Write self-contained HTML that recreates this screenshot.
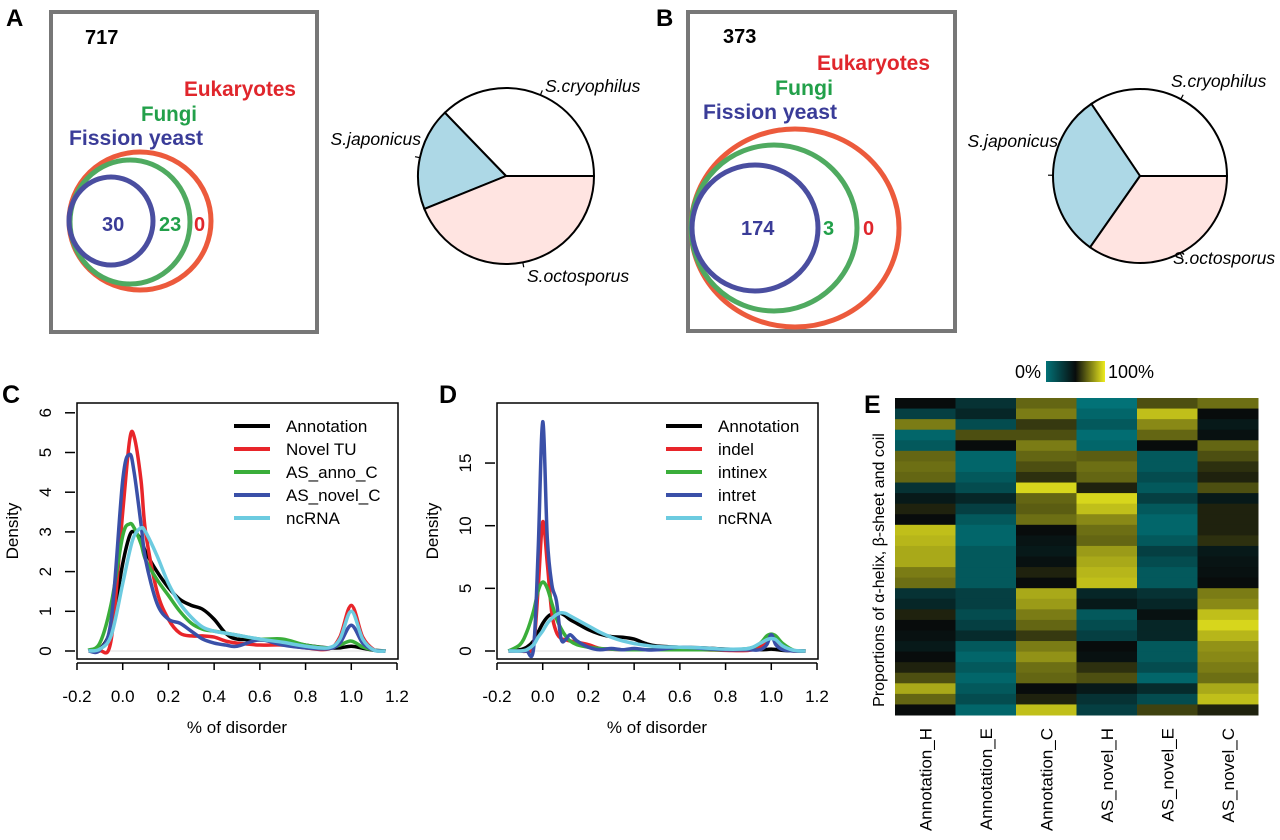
<!DOCTYPE html>
<html><head><meta charset="utf-8"><style>
html,body{margin:0;padding:0;background:#fff;}
svg{display:block;font-family:"Liberation Sans",sans-serif;}
</style></head><body>
<svg id="fig" width="1280" height="840" viewBox="0 0 1280 840" xmlns="http://www.w3.org/2000/svg">
<!-- Panel A -->
<g>
<text x="6" y="26" font-size="24" font-weight="bold">A</text>
<rect x="51" y="12" width="266" height="320" fill="none" stroke="#777" stroke-width="4"/>
<text x="85" y="44" font-size="20" font-weight="bold">717</text>
<text x="184" y="96" font-size="21" font-weight="bold" fill="#e0262c" textLength="112" lengthAdjust="spacingAndGlyphs">Eukaryotes</text>
<text x="141" y="121" font-size="21" font-weight="bold" fill="#22a04a" textLength="56" lengthAdjust="spacingAndGlyphs">Fungi</text>
<text x="69" y="145" font-size="21" font-weight="bold" fill="#3a3c98" textLength="134" lengthAdjust="spacingAndGlyphs">Fission yeast</text>
<ellipse cx="140" cy="221" rx="71" ry="69" fill="none" stroke="#ec5a3c" stroke-width="5"/>
<ellipse cx="130" cy="222" rx="60" ry="62" fill="none" stroke="#4faa60" stroke-width="5"/>
<ellipse cx="111" cy="221" rx="42" ry="44" fill="none" stroke="#4a4ea0" stroke-width="5"/>
<text x="102" y="231" font-size="20" font-weight="bold" fill="#3a3c98">30</text>
<text x="159" y="231" font-size="20" font-weight="bold" fill="#22a04a">23</text>
<text x="194" y="231" font-size="20" font-weight="bold" fill="#e0262c">0</text>
<g id="pieA"></g>
</g>
<!-- Panel B -->
<g>
<text x="656" y="26" font-size="24" font-weight="bold">B</text>
<rect x="688" y="12" width="267" height="319" fill="none" stroke="#777" stroke-width="4"/>
<text x="723" y="43" font-size="20" font-weight="bold">373</text>
<text x="817" y="70" font-size="21" font-weight="bold" fill="#e0262c" textLength="113" lengthAdjust="spacingAndGlyphs">Eukaryotes</text>
<text x="775" y="95" font-size="21" font-weight="bold" fill="#22a04a" textLength="58" lengthAdjust="spacingAndGlyphs">Fungi</text>
<text x="703" y="119" font-size="21" font-weight="bold" fill="#3a3c98" textLength="134" lengthAdjust="spacingAndGlyphs">Fission yeast</text>
<ellipse cx="795" cy="228" rx="104" ry="99" fill="none" stroke="#ec5a3c" stroke-width="5"/>
<ellipse cx="774" cy="228" rx="83" ry="83" fill="none" stroke="#4faa60" stroke-width="5"/>
<ellipse cx="755" cy="228" rx="63" ry="63" fill="none" stroke="#4a4ea0" stroke-width="5"/>
<text x="741" y="235" font-size="20" font-weight="bold" fill="#3a3c98">174</text>
<text x="823" y="235" font-size="20" font-weight="bold" fill="#22a04a">3</text>
<text x="863" y="235" font-size="20" font-weight="bold" fill="#e0262c">0</text>
<g id="pieB"></g>
</g>
<!-- Panel C -->
<g id="panelC">
<text x="2" y="403" font-size="25" font-weight="bold">C</text>
</g>
<g id="panelD">
<text x="439" y="403" font-size="25" font-weight="bold">D</text>
</g>
<g id="panelE">
<text x="864" y="413" font-size="25" font-weight="bold">E</text>
</g>
</svg>
<script>
const NS='http://www.w3.org/2000/svg';
// ---------- pie data ----------
const pieLabels=['S.cryophilus','S.japonicus','S.octosporus'];
const pieAValues=[134,68,158];
const pieBValues=[124,111,125];
// ---------- density C data ----------
const cX=[-0.15,-0.1,-0.05,0,0.03,0.05,0.08,0.1,0.15,0.2,0.25,0.3,0.35,0.4,0.45,0.5,0.6,0.7,0.8,0.9,0.95,1.0,1.05,1.1,1.15];
const cNames=['Annotation','Novel TU','AS_anno_C','AS_novel_C','ncRNA'];
const cAnnotation=[0,0.05,0.6,2.2,2.9,3.0,2.8,2.5,2.0,1.6,1.3,1.15,1.05,0.8,0.45,0.3,0.28,0.25,0.15,0.08,0.08,0.12,0.07,0.02,0];
const cNovelTU=[0,0,0.3,3.5,5.3,5.4,4.3,3.0,1.5,0.8,0.45,0.38,0.38,0.35,0.25,0.2,0.15,0.15,0.08,0.05,0.35,1.15,0.35,0.03,0];
const cASanno=[0.02,0.2,1.2,2.9,3.2,3.1,2.7,2.3,1.8,1.4,1.0,0.7,0.55,0.5,0.45,0.4,0.3,0.3,0.15,0.08,0.15,0.25,0.1,0.02,0];
const cASnovel=[0,0.03,0.8,4.3,4.95,4.5,3.2,2.3,1.2,0.8,0.7,0.5,0.3,0.2,0.15,0.12,0.28,0.15,0.08,0.06,0.2,0.65,0.2,0.02,0];
const cNcRNA=[0,0.05,0.4,1.7,2.5,2.9,3.1,3.0,2.4,1.7,1.2,0.85,0.6,0.5,0.45,0.4,0.3,0.22,0.12,0.08,0.3,1.0,0.3,0.02,0];
const cYTicks=[0,1,2,3,4,5,6];
// ---------- density D data ----------
const dX=[-0.15,-0.1,-0.07,-0.04,-0.02,0,0.02,0.04,0.06,0.08,0.1,0.12,0.15,0.2,0.25,0.3,0.35,0.4,0.45,0.5,0.6,0.7,0.8,0.9,0.95,0.98,1.0,1.02,1.05,1.1,1.15];
const dNames=['Annotation','indel','intinex','intret','ncRNA'];
const dAnnotation=[0,0.1,0.3,0.8,1.5,2.2,2.7,2.95,3.0,3.0,2.8,2.5,2.2,1.7,1.35,1.15,1.1,0.95,0.6,0.4,0.3,0.25,0.15,0.1,0.1,0.12,0.15,0.12,0.05,0.01,0];
const dIndel=[0,0,0,0.5,5,10.3,7,3,1.5,1.0,0.9,0.8,0.7,0.5,0.2,0.15,0.1,0.1,0.1,0.1,0.1,0.1,0.05,0.05,0.3,0.9,1.1,0.8,0.2,0,0];
const dIntinex=[0,0.5,1.5,3.2,4.8,5.5,5.0,3.8,2.6,1.8,1.2,0.8,0.5,0.3,0.2,0.15,0.1,0.1,0.1,0.1,0.1,0.1,0.1,0.2,0.6,1.2,1.35,1.2,0.6,0.05,0];
const dIntret=[0,0,0,0.2,8,18.3,9,5.3,4,1.0,0.9,1.3,0.8,0.3,0.1,0.2,0.1,0.2,0.1,0.1,0.3,0.2,0.1,0.1,0.1,0.5,1.3,0.5,0.1,0,0];
const dNcRNA=[0,0,0.1,0.5,1.1,1.6,2.2,2.6,2.9,3.05,3.0,2.8,2.5,2.0,1.5,1.1,0.8,0.6,0.45,0.35,0.3,0.25,0.15,0.2,0.6,0.9,1.0,0.9,0.4,0.05,0];
const dYTicks=[0,5,10,15];
const xTicks=[-0.2,0,0.2,0.4,0.6,0.8,1.0,1.2];
const xTickLabels=['-0.2','0.0','0.2','0.4','0.6','0.8','1.0','1.2'];
// ---------- heatmap data ----------
const hmColumns=['Annotation_H','Annotation_E','Annotation_C','AS_novel_H','AS_novel_E','AS_novel_C'];
const hmAnnotationH=[0.5,0.3,0.75,0.15,0.2,0.7,0.72,0.7,0.35,0.45,0.55,0.5,0.9,0.88,0.85,0.85,0.75,0.72,0.35,0.4,0.55,0.5,0.48,0.45,0.5,0.55,0.65,0.85,0.7,0.5];
const hmAnnotationE=[0.35,0.4,0.25,0.65,0.5,0.15,0.15,0.2,0.25,0.4,0.3,0.2,0.15,0.15,0.2,0.2,0.2,0.2,0.3,0.3,0.25,0.3,0.38,0.2,0.15,0.2,0.15,0.2,0.25,0.15];
const hmAnnotationC=[0.7,0.75,0.6,0.65,0.75,0.7,0.65,0.58,0.95,0.7,0.68,0.72,0.5,0.47,0.45,0.48,0.55,0.5,0.85,0.82,0.75,0.7,0.6,0.75,0.8,0.72,0.7,0.5,0.55,0.9];
const hmASnovelH=[0.1,0.15,0.2,0.12,0.15,0.68,0.72,0.7,0.55,0.95,0.9,0.78,0.72,0.7,0.82,0.85,0.88,0.9,0.4,0.45,0.2,0.25,0.3,0.5,0.48,0.58,0.65,0.45,0.35,0.3];
const hmASnovelE=[0.65,0.9,0.78,0.7,0.5,0.2,0.2,0.25,0.2,0.3,0.2,0.15,0.15,0.2,0.3,0.25,0.2,0.2,0.35,0.4,0.48,0.4,0.4,0.2,0.2,0.25,0.15,0.38,0.25,0.62];
const hmASnovelC=[0.72,0.5,0.45,0.48,0.7,0.65,0.58,0.55,0.65,0.45,0.55,0.55,0.55,0.58,0.45,0.47,0.48,0.5,0.75,0.78,0.9,0.95,0.88,0.8,0.78,0.75,0.72,0.85,0.9,0.55];

function mk(tag,attrs,parent,txt){const e=document.createElementNS(NS,tag);for(const k in attrs)e.setAttribute(k,attrs[k]);if(txt!==undefined)e.textContent=txt;parent.appendChild(e);return e;}

// ---------- pies ----------
function drawPie(g,vals,cx,cy,r,labelPos){
  const fills=['#ffffff','#add8e6','#ffe4e1'];
  const tot=vals.reduce((a,b)=>a+b,0);
  let a0=0;
  vals.forEach((v,i)=>{
    const a1=a0+v/tot*2*Math.PI;
    const x0=cx+r*Math.cos(a0),y0=cy-r*Math.sin(a0),x1=cx+r*Math.cos(a1),y1=cy-r*Math.sin(a1);
    const large=(a1-a0)>Math.PI?1:0;
    const p=mk('path',{d:`M${cx},${cy} L${x0},${y0} A${r},${r} 0 ${large} 0 ${x1},${y1} Z`,fill:fills[i],stroke:'#000','stroke-width':2},g);
    
    
    const am=(a0+a1)/2;
    const tx1=cx+r*Math.cos(am),ty1=cy-r*Math.sin(am),tx2=cx+(r+5)*Math.cos(am),ty2=cy-(r+5)*Math.sin(am);
    const t=mk('line',{x1:tx1,y1:ty1,x2:tx2,y2:ty2,stroke:'#000','stroke-width':1.2},g);
    
    
    const lp=labelPos[i];
    const lt=mk('text',{x:lp[0],y:lp[1],'font-size':17.5,'font-style':'italic','text-anchor':lp[2]},g,pieLabels[i]);
    
    
    a0=a1;
  });
}
drawPie(document.getElementById('pieA'),pieAValues,506,176,88,[[545,92,'start'],[421,145,'end'],[527,282,'start']]);
drawPie(document.getElementById('pieB'),pieBValues,1140,176,87,[[1171,87,'start'],[1058,147,'end'],[1173,264,'start']]);

// ---------- density ----------
function smooth(pts){
  let d=`M${pts[0][0]},${pts[0][1]}`;
  for(let i=0;i<pts.length-1;i++){
    const p0=pts[Math.max(0,i-1)],p1=pts[i],p2=pts[i+1],p3=pts[Math.min(pts.length-1,i+2)];
    const c1x=p1[0]+(p2[0]-p0[0])/6,c1y=p1[1]+(p2[1]-p0[1])/6,c2x=p2[0]-(p3[0]-p1[0])/6,c2y=p2[1]-(p3[1]-p1[1])/6;
    d+=` C${c1x},${c1y} ${c2x},${c2y} ${p2[0]},${p2[1]}`;
  }
  return d;
}
const colors=['#000000','#e8252a','#3aae3a','#3a50a8','#6ccbe0'];
function drawDensity(g,x0,yScale,xs,series,names,yTicks,legendX,pfx){
  const X=v=>x0+(v+0.2)/1.4*320;
  const Y=v=>651-v*yScale;
  const box=mk('rect',{x:x0,y:403,width:321,height:256,fill:'none',stroke:'#000','stroke-width':1.5},g);
  
  
  const base=mk('line',{x1:X(-0.15),x2:X(1.15),y1:Y(0),y2:Y(0),stroke:'#ddd','stroke-width':1},g);
  
  
  const xa=mk('line',{x1:X(-0.2),x2:X(1.2),y1:663,y2:663,stroke:'#000','stroke-width':1.5},g);
  
  
  xTicks.forEach((t,i)=>{
    const l=mk('line',{x1:X(t),x2:X(t),y1:663,y2:670,stroke:'#000','stroke-width':1.5},g);
    
    
    const tx=mk('text',{x:X(t),y:702,'font-size':17,'text-anchor':'middle'},g,xTickLabels[i]);
    
    
  });
  yTicks.forEach(t=>{
    const l=mk('line',{x1:x0-12,x2:x0-2,y1:Y(t),y2:Y(t),stroke:'#000','stroke-width':1.5},g);
    
    
    const tx=mk('text',{x:0,y:0,'font-size':17,'text-anchor':'middle',transform:`translate(${x0-26},${Y(t)}) rotate(-90)`},g,String(t));
    
    
  });
  const xt=mk('text',{x:x0+160,y:733,'font-size':17,'text-anchor':'middle'},g,'% of disorder');
  
  
  const yt=mk('text',{x:0,y:0,'font-size':17,'text-anchor':'middle',transform:`translate(${x0-59},531) rotate(-90)`},g,'Density');
  
  
  series.forEach((s,si)=>{
    const pts=xs.map((v,i)=>[X(v),Y(s[i])]);
    const p=mk('path',{d:smooth(pts),fill:'none',stroke:colors[si],'stroke-width':3.5,'stroke-linejoin':'round'},g);
    
    
  });
  names.forEach((n,i)=>{
    const y=426+i*23;
    const l=mk('line',{x1:legendX,x2:legendX+36,y1:y,y2:y,stroke:colors[i],'stroke-width':4},g);
    
    
    const t=mk('text',{x:legendX+52,y:y+6,'font-size':17},g,n);
    
    
  });
}
drawDensity(document.getElementById('panelC'),77,39.7,cX,[cAnnotation,cNovelTU,cASanno,cASnovel,cNcRNA],cNames,cYTicks,234,'c');
drawDensity(document.getElementById('panelD'),497,12.53,dX,[dAnnotation,dIndel,dIntinex,dIntret,dNcRNA],dNames,dYTicks,666,'d');

// ---------- heatmap ----------
(function(){
  const g=document.getElementById('panelE');
  const cols=[hmAnnotationH,hmAnnotationE,hmAnnotationC,hmASnovelH,hmASnovelE,hmASnovelC];
  const x0=895,x1=1258,y0=398,y1=715;
  const cw=(x1-x0)/cols.length;
  function col(v){
    const teal=[0,140,146],blk=[8,12,12],yel=[238,236,30];
    let a,b,t;
    if(v<0.5){a=teal;b=blk;t=v/0.5;}else{a=blk;b=yel;t=(v-0.5)/0.5;}
    return `rgb(${a.map((c,i)=>Math.round(c+(b[i]-c)*t)).join(',')})`;
  }
  cols.forEach((vals,ci)=>{
    const rh=(y1-y0)/vals.length;
    vals.forEach((v,ri)=>{
      const r=mk('rect',{x:x0+ci*cw,y:y0+ri*rh,width:cw+0.5,height:rh+0.5,fill:col(v)},g);
      
      
    });
    const t=mk('text',{x:0,y:0,'font-size':17,'text-anchor':'end',transform:`translate(${x0+(ci+0.5)*cw+6},728) rotate(-90)`},g,hmColumns[ci]);
    
    
  });
  const yt=mk('text',{x:0,y:0,'font-size':16,'text-anchor':'middle',transform:`translate(884,570) rotate(-90)`},g,'Proportions of α-helix, β-sheet and coil');
  
  
  const defs=mk('defs',{},g);
  const lg=mk('linearGradient',{id:'cbar',x1:0,x2:1,y1:0,y2:0},defs);
  [[0,col(0.1)],[0.5,col(0.5)],[1,col(1)]].forEach(s=>mk('stop',{offset:s[0],'stop-color':s[1]},lg));
  const cb=mk('rect',{x:1046,y:361,width:59,height:21,fill:'url(#cbar)'},g);
  
  
  const l0=mk('text',{x:1041,y:378,'font-size':18,'text-anchor':'end'},g,'0%');
  
  
  const l1=mk('text',{x:1108,y:378,'font-size':18},g,'100%');
  
  
})();
</script>
</body></html>
